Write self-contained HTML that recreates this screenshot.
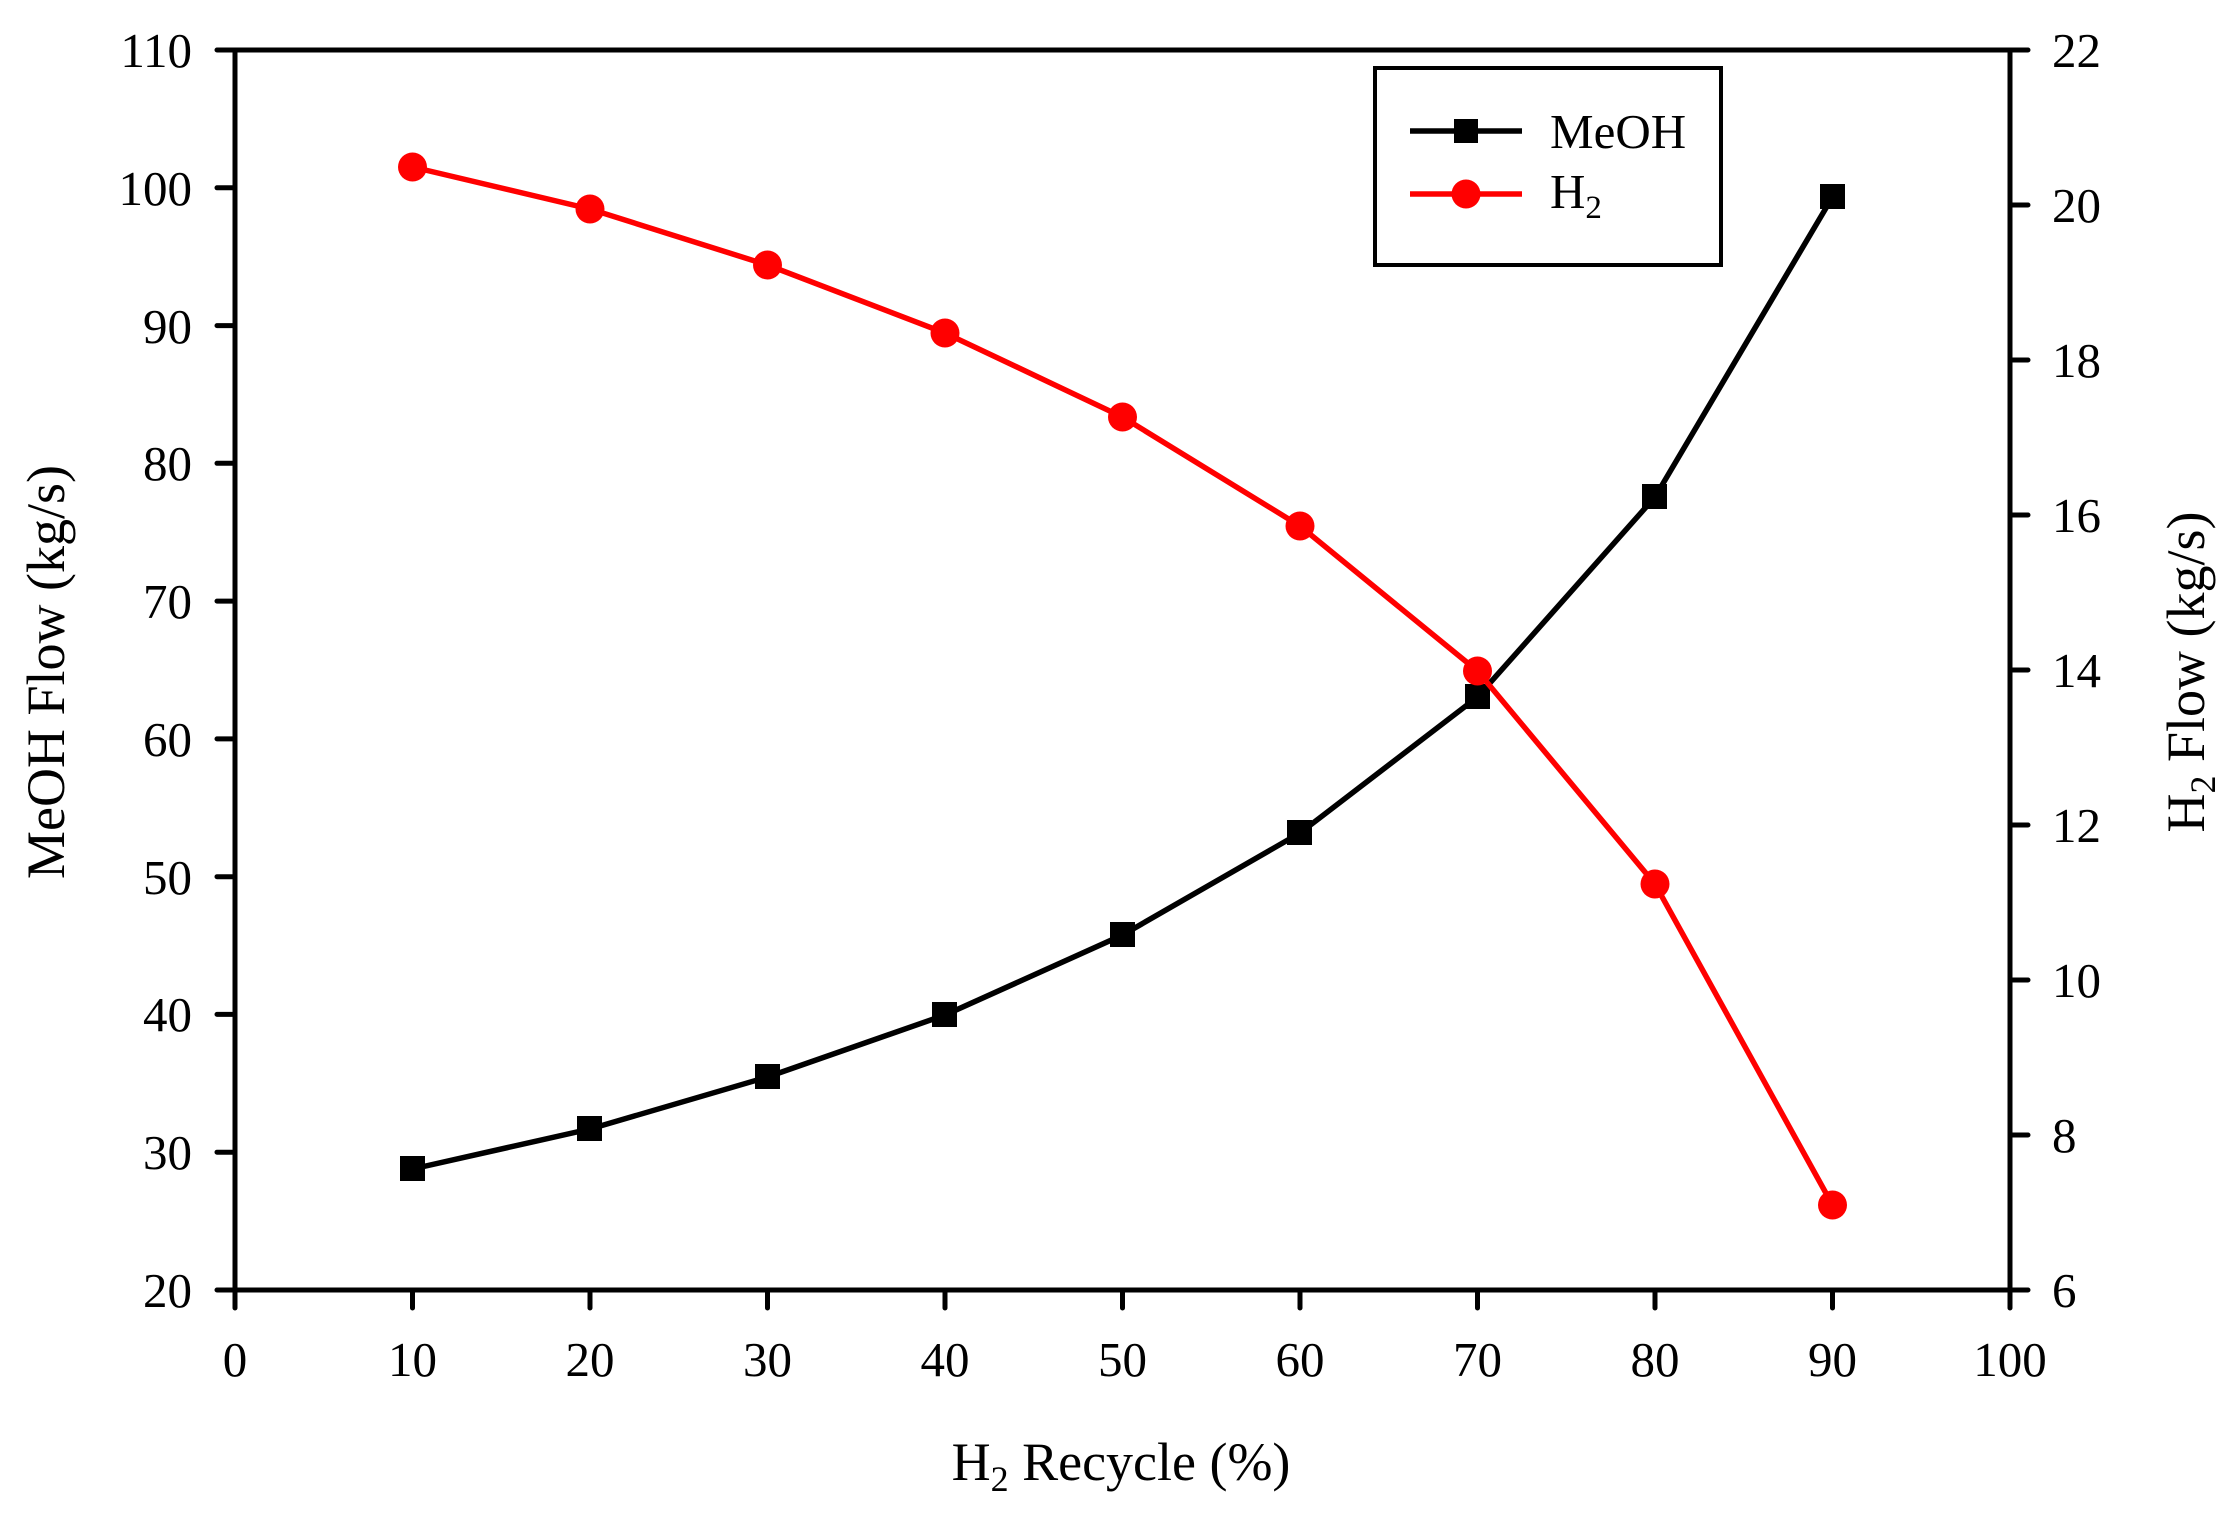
<!DOCTYPE html>
<html><head><meta charset="utf-8"><style>html,body{margin:0;padding:0;background:#fff}</style></head>
<body>
<svg width="2234" height="1508" xmlns="http://www.w3.org/2000/svg" font-family="Liberation Serif, serif" font-size="49">
<rect width="2234" height="1508" fill="#fff"/>
<g stroke="#000" stroke-width="5" fill="none" stroke-linecap="round">
<path d="M235 50 H2010 M235 50 V1290 H2010 V50"/>
<path d="M217 50H235M217 187.8H235M217 325.6H235M217 463.3H235M217 601.1H235M217 738.9H235M217 876.7H235M217 1014.4H235M217 1152.2H235M217 1290H235"/>
<path d="M2010 50H2028M2010 205H2028M2010 360H2028M2010 515H2028M2010 670H2028M2010 825H2028M2010 980H2028M2010 1135H2028M2010 1290H2028"/>
<path d="M235 1290V1308M412.5 1290V1308M590 1290V1308M767.5 1290V1308M945 1290V1308M1122.5 1290V1308M1300 1290V1308M1477.5 1290V1308M1655 1290V1308M1832.5 1290V1308M2010 1290V1308"/>
</g>
<g text-anchor="end">
<text x="192" y="67">110</text><text x="192" y="205">100</text><text x="192" y="343">90</text><text x="192" y="480">80</text><text x="192" y="618">70</text><text x="192" y="756">60</text><text x="192" y="894">50</text><text x="192" y="1031">40</text><text x="192" y="1169">30</text><text x="192" y="1307">20</text>
</g>
<g>
<text x="2052" y="67">22</text><text x="2052" y="222">20</text><text x="2052" y="377">18</text><text x="2052" y="532">16</text><text x="2052" y="687">14</text><text x="2052" y="842">12</text><text x="2052" y="997">10</text><text x="2052" y="1152">8</text><text x="2052" y="1307">6</text>
</g>
<g text-anchor="middle">
<text x="235" y="1376">0</text><text x="412.5" y="1376">10</text><text x="590" y="1376">20</text><text x="767.5" y="1376">30</text><text x="945" y="1376">40</text><text x="1122.5" y="1376">50</text><text x="1300" y="1376">60</text><text x="1477.5" y="1376">70</text><text x="1655" y="1376">80</text><text x="1832.5" y="1376">90</text><text x="2010" y="1376">100</text>
</g>
<text x="1121" y="1480" text-anchor="middle" font-size="54">H<tspan font-size="36" dy="11">2</tspan><tspan dy="-11"> Recycle (%)</tspan></text>
<text transform="translate(64,672) rotate(-90)" text-anchor="middle" font-size="54">MeOH Flow (kg/s)</text>
<text transform="translate(2204,672) rotate(-90)" text-anchor="middle" font-size="54">H<tspan font-size="36" dy="11">2</tspan><tspan dy="-11"> Flow (kg/s)</tspan></text>
<polyline fill="none" stroke="#000" stroke-width="5.5" points="412.5,1169 590,1129 767.5,1077 945,1015 1122.5,935 1300,833 1477.5,697 1655,497 1832.5,197"/>
<g fill="#000">
<rect x="400" y="1156" width="25" height="25"/><rect x="577" y="1116" width="25" height="25"/><rect x="755" y="1064" width="25" height="25"/><rect x="932" y="1002" width="25" height="25"/><rect x="1110" y="922" width="25" height="25"/><rect x="1287" y="820" width="25" height="25"/><rect x="1465" y="684" width="25" height="25"/><rect x="1642" y="484" width="25" height="25"/><rect x="1820" y="184" width="25" height="25"/>
</g>
<polyline fill="none" stroke="#f00" stroke-width="5.5" points="412.5,167 590,209 767.5,265 945,333 1122.5,417 1300,526 1477.5,671 1655,884 1832.5,1205"/>
<g fill="#f00">
<circle cx="412.5" cy="167" r="14.5"/><circle cx="590" cy="209" r="14.5"/><circle cx="767.5" cy="265" r="14.5"/><circle cx="945" cy="333" r="14.5"/><circle cx="1122.5" cy="417" r="14.5"/><circle cx="1300" cy="526" r="14.5"/><circle cx="1477.5" cy="671" r="14.5"/><circle cx="1655" cy="884" r="14.5"/><circle cx="1832.5" cy="1205" r="14.5"/>
</g>
<rect x="1375" y="68" width="346" height="197" fill="#fff" stroke="#000" stroke-width="4"/>
<line x1="1410" y1="131" x2="1522" y2="131" stroke="#000" stroke-width="5.5"/>
<rect x="1454" y="119" width="24" height="24" fill="#000"/>
<text x="1550" y="148">MeOH</text>
<line x1="1410" y1="194" x2="1522" y2="194" stroke="#f00" stroke-width="5.5"/>
<circle cx="1466" cy="194" r="14.5" fill="#f00"/>
<text x="1550" y="208">H<tspan font-size="33" dy="10">2</tspan></text>
</svg>
</body></html>
